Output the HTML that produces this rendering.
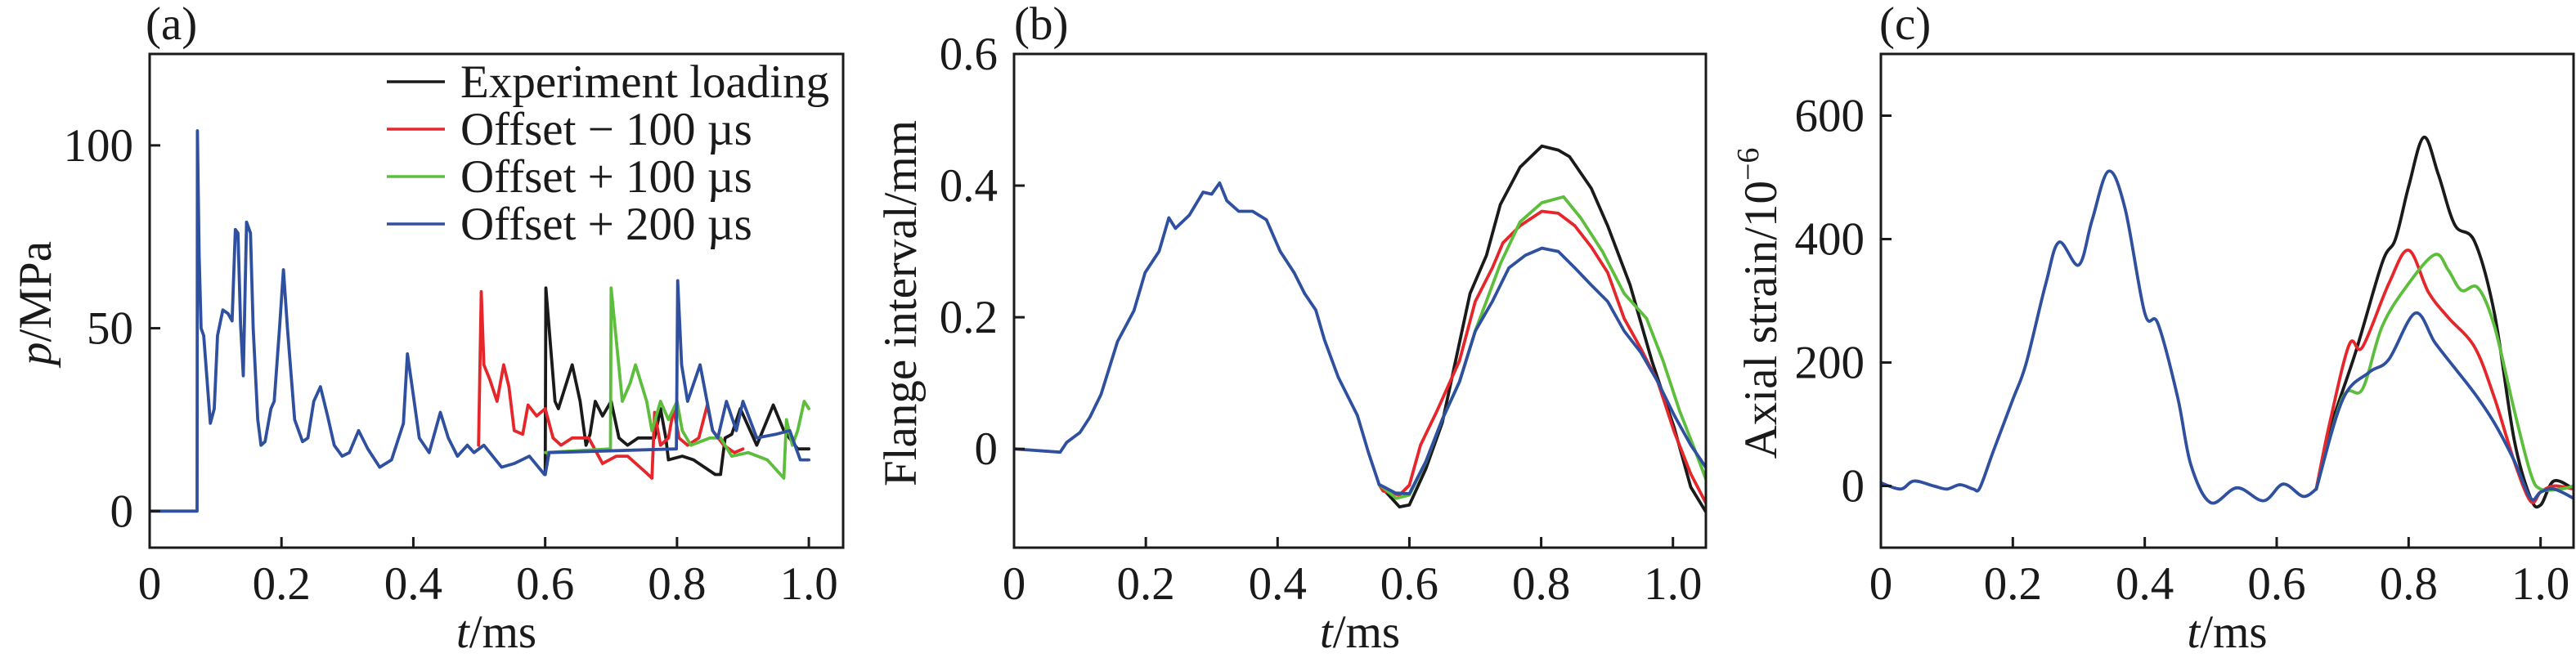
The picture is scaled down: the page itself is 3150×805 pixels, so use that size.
<!DOCTYPE html>
<html><head><meta charset="utf-8"><style>
html,body{margin:0;padding:0;background:#fff;}
svg{display:block;font-family:"Liberation Serif",serif;}
</style></head>
<body>
<svg id="fig" width="3150" height="805" viewBox="0 0 3150 805" xmlns="http://www.w3.org/2000/svg"></svg>
<script>
// ---------- Panel (a) data: pressure p/MPa vs t/ms ----------
const aBaseT = [0,0.072,0.0725,0.075,0.078,0.082,0.092,0.098,0.103,0.111,0.119,0.125,0.130,0.134,0.138,0.142,0.147,0.153,0.157,0.164,0.169,0.175,0.184,0.189,0.197,0.203,0.209,0.220,0.232,0.240,0.249,0.259,0.270,0.280,0.292,0.303,0.317,0.331,0.349,0.367,0.385,0.391,0.399,0.409,0.424,0.441,0.453,0.467,0.482,0.492,0.507,0.534,0.553,0.576,0.599];
const aBaseP = [0,0,104,70,50,48,24,28,48,55,54,52,77,76,51,37,79,76,50,25,18,19,28,30,50,66,50,25,19,20,30,34,26,18,15,16,22,17,12,14,24,43,33,20,16,27,20,15,18,16,18,12,13,15,10];
const aBlackT = [0.6,0.601,0.615,0.62,0.641,0.653,0.662,0.668,0.676,0.687,0.7,0.712,0.725,0.741,0.766,0.775,0.783,0.787,0.808,0.825,0.858,0.866,0.873,0.883,0.896,0.921,0.946,0.962,0.983,1.0];
const aBlackP = [10,61,30,28,40,30,18,21,30,26,30,20,18,20,20,28,20,14,15,14,10,10,20,21,28,18,29,22,17,17];
const aRedT = [0.499,0.503,0.507,0.516,0.527,0.537,0.545,0.553,0.566,0.574,0.587,0.6,0.612,0.624,0.641,0.666,0.687,0.708,0.725,0.75,0.762,0.766,0.775,0.787,0.795,0.803,0.816,0.833,0.846,0.854,0.871,0.887,0.9];
const aRedP = [18,60,40,36,30,40,34,22,21,29,26,28,20,18,20,20,13,15,15,11,9,27,18,20,28,20,18,20,29,22,18,16,17];
const aGreenT = [0.6,0.699,0.700,0.717,0.729,0.737,0.754,0.762,0.775,0.787,0.8,0.808,0.821,0.850,0.866,0.883,0.908,0.937,0.962,0.966,0.975,0.983,0.993,1.0];
const aGreenP = [16,17,61,30,35,40,30,22,30,25,30,22,18,20,20,15,16,14,9,25,18,22,30,28];
const aBlueTailT = [0.6,0.606,0.799,0.801,0.807,0.816,0.835,0.854,0.862,0.875,0.890,0.9,0.921,0.95,0.971,0.987,1.0];
const aBlueTailP = [10,16,17,63,40,30,40,22,20,30,22,30,20,21,22,14,14];
const aXTicks = [0,0.2,0.4,0.6,0.8,1.0];
const aXTickLabels = ["0","0.2","0.4","0.6","0.8","1.0"];
const aYTicks = [0,50,100];
const aYTickLabels = ["0","50","100"];

// ---------- Panel (b) data: flange interval/mm ----------
const bBaseT = [0,0.07,0.08,0.1,0.115,0.132,0.157,0.182,0.199,0.22,0.235,0.245,0.266,0.287,0.3,0.312,0.323,0.341,0.362,0.383,0.404,0.425,0.441,0.458,0.471,0.492,0.521,0.538,0.554];
const bBaseY = [0,-0.005,0.01,0.025,0.048,0.083,0.163,0.21,0.268,0.30,0.351,0.335,0.355,0.39,0.387,0.404,0.377,0.361,0.361,0.348,0.30,0.268,0.236,0.211,0.166,0.109,0.051,-0.006,-0.054];
const bBlackT = [0.554,0.585,0.6,0.625,0.65,0.692,0.717,0.738,0.768,0.801,0.826,0.843,0.876,0.901,0.935,0.968,1.002,1.027,1.052];
const bBlackY = [-0.054,-0.088,-0.085,-0.03,0.04,0.236,0.294,0.371,0.428,0.46,0.454,0.444,0.396,0.339,0.249,0.134,0.032,-0.058,-0.099];
const bRedT = [0.554,0.56,0.585,0.6,0.617,0.642,0.676,0.7,0.726,0.742,0.768,0.801,0.826,0.851,0.876,0.901,0.926,0.951,0.977,1.002,1.027,1.052];
const bRedY = [-0.054,-0.064,-0.07,-0.055,0.006,0.058,0.134,0.224,0.275,0.313,0.339,0.361,0.358,0.339,0.307,0.268,0.198,0.153,0.102,0.026,-0.038,-0.086];
const bGreenT = [0.554,0.58,0.6,0.625,0.65,0.676,0.7,0.738,0.768,0.801,0.834,0.86,0.893,0.926,0.96,0.985,1.01,1.035,1.052];
const bGreenY = [-0.054,-0.075,-0.07,-0.02,0.045,0.102,0.179,0.281,0.345,0.374,0.383,0.351,0.30,0.236,0.198,0.134,0.058,-0.006,-0.051];
const bBlueT = [0.554,0.579,0.6,0.625,0.65,0.676,0.7,0.726,0.751,0.776,0.801,0.826,0.851,0.876,0.901,0.926,0.951,0.977,1.002,1.027,1.052];
const bBlueY = [-0.054,-0.067,-0.068,-0.019,0.045,0.102,0.179,0.224,0.275,0.294,0.305,0.30,0.275,0.249,0.224,0.179,0.147,0.102,0.051,0.006,-0.031];
const bXTicks = [0,0.2,0.4,0.6,0.8,1.0];
const bXTickLabels = ["0","0.2","0.4","0.6","0.8","1.0"];
const bYTicks = [0,0.2,0.4,0.6];
const bYTickLabels = ["0","0.2","0.4","0.6"];

// ---------- Panel (c) data: axial strain/1e-6 ----------
const cBaseT = [0,0.03,0.05,0.08,0.1,0.12,0.14,0.15,0.17,0.2,0.22,0.25,0.27,0.3,0.32,0.345,0.37,0.4,0.42,0.45,0.47,0.5,0.54,0.58,0.61,0.64,0.66];
const cBaseY = [5,-5,8,0,-5,2,-5,-3,55,140,198,328,395,358,430,510,450,280,263,143,34,-27,-3,-24,3,-17,-5];
const cBlackT = [0.66,0.68,0.72,0.76,0.78,0.8,0.823,0.845,0.87,0.9,0.93,0.96,0.985,1.0,1.02,1.05];
const cBlackY = [-5,89,218,362,400,485,565,505,423,396,280,75,-20,-31,8,-5];
const cRedT = [0.66,0.68,0.71,0.73,0.77,0.8,0.83,0.86,0.9,0.93,0.96,0.985,1.0,1.02,1.05];
const cRedY = [-5,100,229,225,328,382,314,273,225,143,40,-25,-10,0,-5];
const cGreenT = [0.66,0.7,0.73,0.76,0.8,0.84,0.86,0.88,0.905,0.93,0.96,0.985,1.0,1.03,1.05];
const cGreenY = [-5,143,157,259,328,375,350,317,321,259,123,20,-5,-5,0];
const cBlueT = [0.66,0.7,0.74,0.77,0.81,0.84,0.87,0.9,0.93,0.96,0.985,1.0,1.02,1.05];
const cBlueY = [-5,140,184,205,280,232,191,150,102,41,-20,-10,-5,-20];
const cXTicks = [0,0.2,0.4,0.6,0.8,1.0];
const cXTickLabels = ["0","0.2","0.4","0.6","0.8","1.0"];
const cYTicks = [0,200,400,600];
const cYTickLabels = ["0","200","400","600"];

const legendLabels = ["Experiment loading","Offset \u2212 100 \u00b5s","Offset + 100 \u00b5s","Offset + 200 \u00b5s"];
const COLORS = {black:"#1a1a1a", red:"#e5262b", green:"#5dbd3c", blue:"#2f4f9f"};
const FS = 57;

const NS = "http://www.w3.org/2000/svg";
const svg = document.getElementById('fig');
function mk(tag, attrs, parent){
  const e = document.createElementNS(NS, tag);
  for (const k in attrs) e.setAttribute(k, attrs[k]);
  (parent||svg).appendChild(e);
  return e;
}
function linePath(xs, ys, sx, sy){
  let d = "";
  for (let i=0;i<xs.length;i++) d += (i?"L":"M") + sx(xs[i]).toFixed(1) + "," + sy(ys[i]).toFixed(1);
  return d;
}
function smoothPath(xs, ys, sx, sy){
  const P = xs.map((x,i)=>[sx(x), sy(ys[i])]);
  let d = "M"+P[0][0].toFixed(1)+","+P[0][1].toFixed(1);
  for (let i=0;i<P.length-1;i++){
    const p0=P[Math.max(i-1,0)], p1=P[i], p2=P[i+1], p3=P[Math.min(i+2,P.length-1)];
    const c1=[p1[0]+(p2[0]-p0[0])/6, p1[1]+(p2[1]-p0[1])/6];
    const c2=[p2[0]-(p3[0]-p1[0])/6, p2[1]-(p3[1]-p1[1])/6];
    d += "C"+c1[0].toFixed(1)+","+c1[1].toFixed(1)+" "+c2[0].toFixed(1)+","+c2[1].toFixed(1)+" "+p2[0].toFixed(1)+","+p2[1].toFixed(1);
  }
  return d;
}

function panel(cfg){
  const g = mk('g', {});
  
  
  const L=cfg.left, R=cfg.right, T=66, B=670;
  const sx = v => L + (v - cfg.xmin)/(cfg.xmax - cfg.xmin)*(R-L);
  const sy = v => B - (v - cfg.ymin)/(cfg.ymax - cfg.ymin)*(B-T);
  const clip = mk('clipPath', {id:cfg.name+'-clip'}, g);
  mk('rect', {x:L, y:T, width:R-L, height:B-T}, clip);
  const plot = mk('g', {'clip-path':'url(#'+cfg.name+'-clip)'}, g);
  cfg.series.forEach(s=>{
    const p = mk('path', {d: cfg.smooth ? smoothPath(s.x,s.y,sx,sy) : linePath(s.x,s.y,sx,sy), fill:'none', stroke:COLORS[s.color], 'stroke-width':3.8, 'stroke-linejoin':'round', 'stroke-linecap':'round'}, plot);
    
    
  });
  const frame = mk('rect', {x:L, y:T, width:R-L, height:B-T, fill:'none', stroke:'#1a1a1a', 'stroke-width':3}, g);
  
  
  cfg.xticks.forEach((v,i)=>{
    const x = sx(v);
    mk('line', {x1:x, y1:B, x2:x, y2:B-13, stroke:'#1a1a1a', 'stroke-width':3}, g);
    const t = mk('text', {x:x, y:733, 'font-size':FS, 'text-anchor':'middle', fill:'#1a1a1a'}, g);
    t.textContent = cfg.xlabels[i];
    
    
  });
  cfg.yticks.forEach((v,i)=>{
    const y = sy(v);
    mk('line', {x1:L, y1:y, x2:L+13, y2:y, stroke:'#1a1a1a', 'stroke-width':3}, g);
    const t = mk('text', {x:L-20, y:y+19, 'font-size':FS, 'text-anchor':'end', fill:'#1a1a1a'}, g);
    t.textContent = cfg.ylabels[i];
    
    
  });
  const xt = mk('text', {x:(L+R)/2+(cfg.xtOff||0), y:792, 'font-size':FS, 'text-anchor':'middle', fill:'#1a1a1a'}, g);
  xt.innerHTML = '<tspan font-style="italic">t</tspan>/ms';
  
  
  const yt = mk('text', {x:0, y:0, 'font-size':FS, 'text-anchor':'middle', fill:'#1a1a1a', transform:'translate('+cfg.ytX+',371) rotate(-90)'}, g);
  yt.innerHTML = cfg.ytitle;
  
  
  const pl = mk('text', {x:cfg.labX, y:48, 'font-size':FS, fill:'#1a1a1a'}, g);
  pl.textContent = cfg.label;
  
  
  return g;
}

// Panel a
panel({name:'panel-a', left:183, right:1031, xmin:0, xmax:1.052, ymin:-10, ymax:125,
  xticks:aXTicks, xlabels:aXTickLabels, yticks:aYTicks, ylabels:aYTickLabels,
  ytX:62, ytitle:'<tspan font-style="italic">p</tspan>/MPa', label:'(a)', labX:178,
  series:[
    {name:'series-experiment', color:'black', x:aBlackT, y:aBlackP},
    {name:'series-offset-minus-100', color:'red', x:aRedT, y:aRedP},
    {name:'series-offset-plus-100', color:'green', x:aGreenT, y:aGreenP},
    {name:'series-offset-plus-200-base', color:'blue', x:aBaseT, y:aBaseP},
    {name:'series-offset-plus-200', color:'blue', x:aBlueTailT, y:aBlueTailP}
  ]});
// Legend
const legend = mk('g', {});


['black','red','green','blue'].forEach((c,i)=>{
  const y = 100 + i*58;
  mk('line', {x1:473, y1:y, x2:544, y2:y, stroke:COLORS[c], 'stroke-width':3.6}, legend);
  const t = mk('text', {x:563, y:y+19, 'font-size':FS, fill:'#1a1a1a'}, legend);
  t.textContent = legendLabels[i];
  
  
});

// Panel b
panel({name:'panel-b', left:1240, right:2086, xmin:0, xmax:1.05, ymin:-0.15, ymax:0.6,
  xticks:bXTicks, xlabels:bXTickLabels, yticks:bYTicks, ylabels:bYTickLabels,
  ytX:1120, ytitle:'Flange interval/mm', label:'(b)', labX:1240,
  series:[
    {name:'series-experiment', color:'black', x:bBlackT, y:bBlackY},
    {name:'series-offset-minus-100', color:'red', x:bRedT, y:bRedY},
    {name:'series-offset-plus-100', color:'green', x:bGreenT, y:bGreenY},
    {name:'series-offset-plus-200-base', color:'blue', x:bBaseT, y:bBaseY},
    {name:'series-offset-plus-200', color:'blue', x:bBlueT, y:bBlueY}
  ]});

// Panel c
panel({name:'panel-c', left:2300, right:3147, xmin:0, xmax:1.05, ymin:-100, ymax:700, smooth:true,
  xticks:cXTicks, xlabels:cXTickLabels, yticks:cYTicks, ylabels:cYTickLabels,
  ytX:2172, ytitle:'Axial strain/10<tspan dy="-22" font-size="38">\u22126</tspan>', label:'(c)', labX:2298,
  series:[
    {name:'series-experiment', color:'black', x:cBlackT, y:cBlackY},
    {name:'series-offset-minus-100', color:'red', x:cRedT, y:cRedY},
    {name:'series-offset-plus-100', color:'green', x:cGreenT, y:cGreenY},
    {name:'series-common-base', color:'blue', x:cBaseT, y:cBaseY},
    {name:'series-offset-plus-200', color:'blue', x:cBlueT, y:cBlueY}
  ]});
</script>
</body></html>
